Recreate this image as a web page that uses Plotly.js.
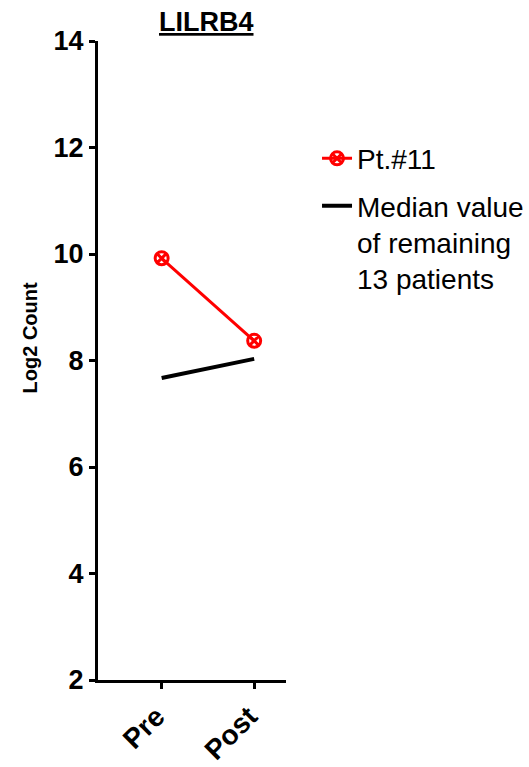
<!DOCTYPE html>
<html>
<head>
<meta charset="utf-8">
<script src="https://cdn.plot.ly/plotly-3.0.1.min.js"></script>
<style>html,body{margin:0;padding:0;background:#fff;}#chart{width:529px;height:767px;}</style>
</head>
<body>
<div id="chart"></div>
<script>
var categories = ["Pre", "Post"];
var patientName = "Pt.#11";
var patientValues = [9.92, 8.37];
var medianName = "Median value<br>of remaining<br>13 patients";
var medianValues = [7.67, 8.03];
var yTicks = [2, 4, 6, 8, 10, 12, 14];
var chartTitle = "LILRB4";
var yTitle = "Log2 Count";

var xIdx = categories.map(function(c, i){ return i; });

var traces = [
  {
    x: xIdx, y: patientValues, name: patientName, type: "scatter", mode: "lines+markers",
    legendgroup: "pt",
    line: {color: "#ff0000", width: 3},
    marker: {symbol: "circle-x-open", size: 13, color: "#ff0000", line: {color: "#ff0000", width: 3}}
  },
  {
    x: xIdx, y: medianValues, name: medianName, type: "scatter", mode: "lines",
    legendgroup: "med",
    line: {color: "#000000", width: 4}
  }
];

var font = "Arial, 'Liberation Sans', sans-serif";
var layout = {
  width: 529, height: 767,
  margin: {l: 98, r: 243, t: 41, b: 87, autoexpand: false},
  paper_bgcolor: "#ffffff", plot_bgcolor: "#ffffff",
  showlegend: true,
  legend: {
    x: 1.165, xanchor: "left", y: 0.855, yanchor: "top", valign: "top",
    font: {family: font, size: 28, color: "#000"},
    bgcolor: "rgba(0,0,0,0)", tracegroupgap: 8
  },
  xaxis: {
    range: [-0.688, 1.344], tickvals: xIdx, ticktext: categories,
    showline: true, linecolor: "#000", linewidth: 3, mirror: false,
    ticks: "outside", ticklen: 6, tickwidth: 3, tickcolor: "#000",
    tickangle: -45, ticklabelshift: -5,
    tickfont: {family: font, size: 28, color: "#000", weight: "bold"},
    showgrid: false, zeroline: false, fixedrange: true
  },
  yaxis: {
    range: [2, 14], tickvals: yTicks,
    showline: true, linecolor: "#000", linewidth: 3,
    ticks: "outside", ticklen: 6, tickwidth: 3, tickcolor: "#000",
    tickfont: {family: font, size: 27, color: "#000", weight: "bold"},
    showgrid: false, zeroline: false, fixedrange: true
  },
  annotations: [
    {text: "<b><u>" + chartTitle + "</u></b>", xref: "paper", yref: "paper", x: 0.575, y: 1.0, xanchor: "center", yanchor: "bottom", yshift: 2, showarrow: false, font: {family: font, size: 27, color: "#000"}},
    {text: "<b>" + yTitle + "</b>", xref: "paper", yref: "paper", x: -0.36, y: 0.535, xanchor: "center", yanchor: "middle", textangle: -90, showarrow: false, font: {family: font, size: 20, color: "#000"}}
  ]
};

Plotly.newPlot("chart", traces, layout, {displayModeBar: false, staticPlot: true});
</script>
</body>
</html>
